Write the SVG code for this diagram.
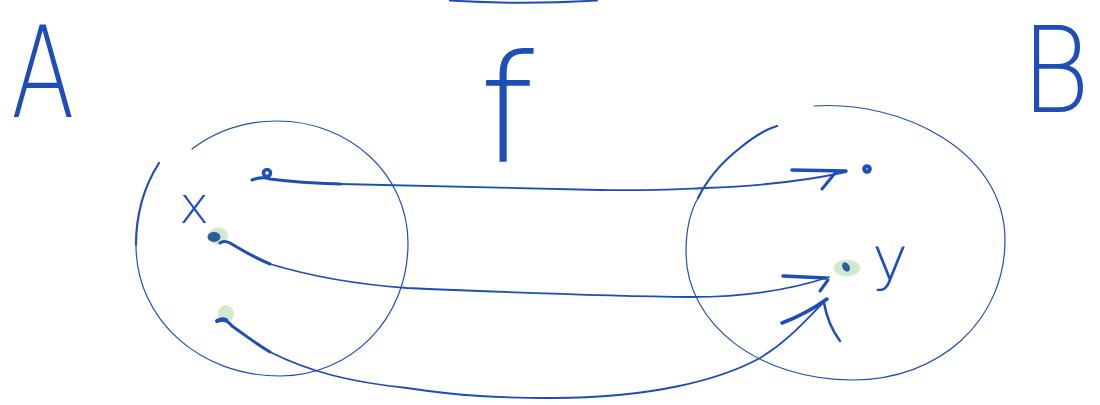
<svg xmlns="http://www.w3.org/2000/svg" width="1100" height="405" viewBox="0 0 1100 405">
  <style>
    .ink { fill: none; stroke: #1f4db8; stroke-linecap: round; stroke-linejoin: round; }
    .thin { stroke-width: 1.2; }
    .med { stroke-width: 1.8; }
    .bold { stroke-width: 3; }
    .lbl { font-family: "DejaVu Sans", "Liberation Sans", sans-serif; font-weight: 200; fill: #1f4db8; }
    .halo { fill: #d3e9cf; }
    .core { fill: #2a5f9e; }
  </style>
  <rect width="1100" height="405" fill="#ffffff"/>

  <!-- cut-off stroke at the top edge -->
  <path class="ink" d="M450,0.5 Q523,5 597,0.5" stroke-width="2"/>

  <g id="setA">
    <path class="ink thin" d="M192,149 C220,128 250,121 277,121 C350,121 408,175 408,243 C408,320 350,376 280,376 C200,376 136,320 136,245"/>
    <path class="ink" stroke-width="2.2" d="M136,245 C136,210 145,185 159,163"/>
    <text class="lbl" transform="translate(11,117) scale(0.74,1)" font-size="126">A</text>
  </g>

  <g id="setB">
    <path class="ink thin" d="M814,106 C900,100 1005,150 1005,240 C1005,320 940,380 853,380 C760,380 686,325 686,252 C686,228 690,212 698,198"/>
    <path class="ink" stroke-width="2.2" d="M698,198 C708,178 722,162 740,148 C752,138 764,130 777,126"/>
    <text class="lbl" transform="translate(1021,112) scale(0.88,1)" font-size="120">B</text>
  </g>

  <g id="label-f">
    <text class="lbl" transform="translate(479,162) scale(1.05,1)" font-size="149">f</text>
  </g>

  <g id="point-x1">
    <circle class="ink" stroke-width="3.5" cx="267" cy="173" r="3.5"/>
  </g>
  <g id="point-x2">
    <ellipse class="halo" cx="218" cy="236" rx="10" ry="8.5"/>
    <ellipse class="core" cx="214" cy="237" rx="6.5" ry="5"/>
  </g>
  <g id="point-x3">
    <ellipse class="halo" cx="226" cy="314" rx="8" ry="9"/>
    <path class="ink" stroke-width="4" d="M217,321 Q222,318 226,320"/>
  </g>
  <g id="label-x">
    <text class="lbl" x="179" y="223" font-size="51">x</text>
  </g>

  <g id="point-y1">
    <circle class="ink" stroke-width="4" cx="867" cy="169" r="2.8"/>
  </g>
  <g id="point-y2">
    <ellipse class="halo" cx="847" cy="268" rx="13" ry="8.5"/>
    <ellipse class="core" cx="846" cy="267" rx="3.5" ry="5" transform="rotate(-30 846 267)"/>
  </g>
  <g id="label-y">
    <text class="lbl" x="872" y="280" font-size="61">y</text>
  </g>

  <g id="connectors">
    <!-- top mapping -->
    <path class="ink bold" d="M252,180 Q262,176 270,179 Q300,183 340,184"/>
    <path class="ink med" d="M340,184 C400,185 500,187 600,190 C650,191 680,189 706,188 C760,186 810,180 846,172"/>
    <path class="ink" stroke-width="3.5" d="M792,170 L846,171"/>
    <path class="ink bold" d="M836,172 L822,189"/>

    <!-- middle mapping -->
    <path class="ink bold" d="M220,243 Q224,240 230,243 C245,252 255,258 270,264"/>
    <path class="ink med" d="M270,264 C310,276 350,284 407,288 C500,292 600,296 691,297 C740,297 790,290 829,277"/>
    <path class="ink" stroke-width="3.5" d="M783,276 L826,278"/>
    <path class="ink bold" d="M828,280 L820,291"/>

    <!-- bottom mapping -->
    <path class="ink bold" d="M218,321 Q226,318 232,326 C245,335 255,343 270,352"/>
    <path class="ink med" d="M270,352 C310,372 350,382 407,388 C460,396 500,398 553,398 C650,398 720,380 760,358 C790,340 810,315 824,302"/>
    <path class="ink" stroke-width="3.5" d="M782,323 Q806,314 827,299"/>
    <path class="ink" stroke-width="2.5" d="M824,303 Q828,325 840,341"/>
  </g>
</svg>
